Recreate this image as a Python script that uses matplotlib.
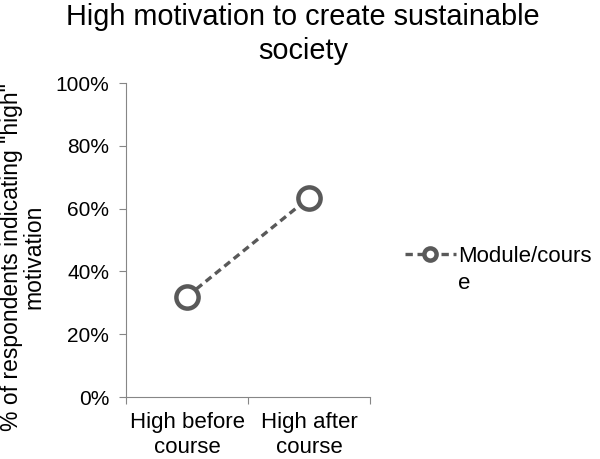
import matplotlib.pyplot as plt

plt.rcParams['font.family'] = ['Liberation Sans', 'DejaVu Sans']

categories = ['High before\ncourse', 'High after\ncourse']
values = [0.32, 0.635]
series_name = 'Module/cours'
yticks = [0, 0.2, 0.4, 0.6, 0.8, 1.0]

grey = '#595959'
axis_grey = '#868686'

fig = plt.figure(figsize=(6, 4.59), dpi=100)
ax = fig.add_axes([0.21, 0.135, 0.407, 0.684])

x = range(len(categories))
line, = ax.plot(x, values, color=grey, linestyle=(0, (2.2, 1.4)), linewidth=2.4,
                marker='o', markersize=16, markerfacecolor='white',
                markeredgecolor=grey, markeredgewidth=3.2, label=series_name)

ax.set_xlim(-0.5, 1.5)
ax.set_ylim(0, 1.0)
ax.set_yticks(yticks)
ax.set_yticklabels([f'{int(round(t*100))}%' for t in yticks], fontsize=15)
ax.set_xticks([-0.5, 0.5, 1.5])
ax.set_xticklabels([])
ax.set_xticks(list(x), minor=True)
ax.set_xticklabels(categories, minor=True, fontsize=16, linespacing=1.2)
ax.tick_params(axis='x', which='minor', length=0, pad=11)
ax.tick_params(axis='x', which='major', length=5, color=axis_grey, direction='out')
ax.tick_params(axis='y', length=5, color=axis_grey, direction='out', pad=7)

for s in ['top', 'right']:
    ax.spines[s].set_visible(False)
for s in ['left', 'bottom']:
    ax.spines[s].set_color(axis_grey)

fig.text(0.038, 0.44, '% of respondents indicating "high"\nmotivation', fontsize=16.5,
         rotation=90, ha='center', va='center', linespacing=1.0)
fig.text(0.505, 0.994, 'High motivation to create sustainable\nsociety', fontsize=20.8,
         ha='center', va='top', linespacing=1.3)

leg = fig.legend(handles=[line], loc='center left', bbox_to_anchor=(0.66, 0.442),
                 frameon=False, fontsize=16, handlelength=2.3, handletextpad=0.1,
                 markerscale=0.55, borderaxespad=0)
fig.text(0.763, 0.383, 'e', fontsize=16, va='center')

fig.savefig('out.png', dpi=100)
